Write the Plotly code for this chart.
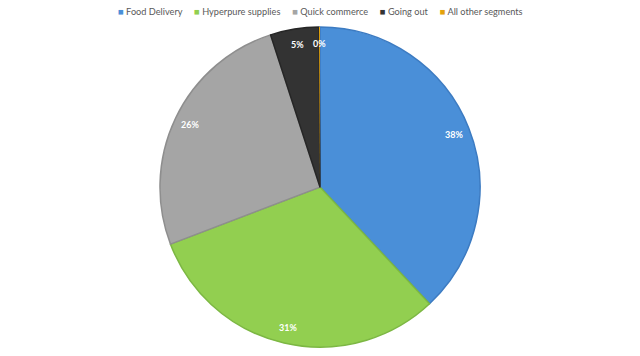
import math
import plotly.graph_objects as go

labels = ["Food Delivery", "Hyperpure supplies", "Quick commerce", "Going out", "All other segments"]
values = [38.0, 31.2, 25.8, 4.9, 0.1]
colors = ["#4A8FD8", "#92CF50", "#A5A5A5", "#333333", "#E3A20B"]
edge_colors = ["#3C7BC2", "#7CB743", "#8E8E8E", "#262626", "#C98E08"]
edge_widths = [1.5, 1.5, 1.5, 1.5, 0]

W, H = 640, 356
dom_y = [0.025, 0.924]

fig = go.Figure(go.Pie(
    labels=labels, values=values, sort=False, direction="clockwise", rotation=0,
    marker=dict(colors=colors, line=dict(color=edge_colors, width=edge_widths)),
    textinfo="none", hoverinfo="label+percent",
    domain=dict(x=[0, 1], y=dom_y),
    showlegend=False,
))

# percentage labels placed at "inside end" like the reference
total = sum(values)
R_px = (dom_y[1] - dom_y[0]) * H / 2
cx = 0.5
cy = (dom_y[0] + dom_y[1]) / 2
cum = 0.0
for v in values:
    mid = (cum + v / 2) / total * 2 * math.pi
    cum += v
    r = 0.9 * R_px
    x = cx + r * math.sin(mid) / W
    y = cy + r * math.cos(mid) / H
    fig.add_annotation(x=x, y=y, xref="paper", yref="paper", showarrow=False,
                       xanchor="center", yanchor="middle",
                       text="<b>%d%%</b>" % round(v / total * 100),
                       font=dict(family="Lato", size=9, color="white"))

# compact Excel-style legend
sep = "&nbsp;" * 5
legend_text = sep.join(
    "<span style='color:%s;font-size:9.5px'>■</span> %s" % (c, l) for c, l in zip(colors, labels)
)
fig.add_annotation(x=0.5, y=1 - 11 / H, xref="paper", yref="paper", showarrow=False,
                   xanchor="center", yanchor="middle", text=legend_text,
                   font=dict(family="Lato", size=9.2, color="#595959"))

fig.update_layout(
    width=W, height=H,
    margin=dict(l=0, r=0, t=0, b=0),
    paper_bgcolor="white", plot_bgcolor="white",
    showlegend=False,
    font=dict(family="Lato"),
)

fig.write_html("out.html", config={"displayModeBar": False},
               post_script="document.body.style.margin='0px';")
